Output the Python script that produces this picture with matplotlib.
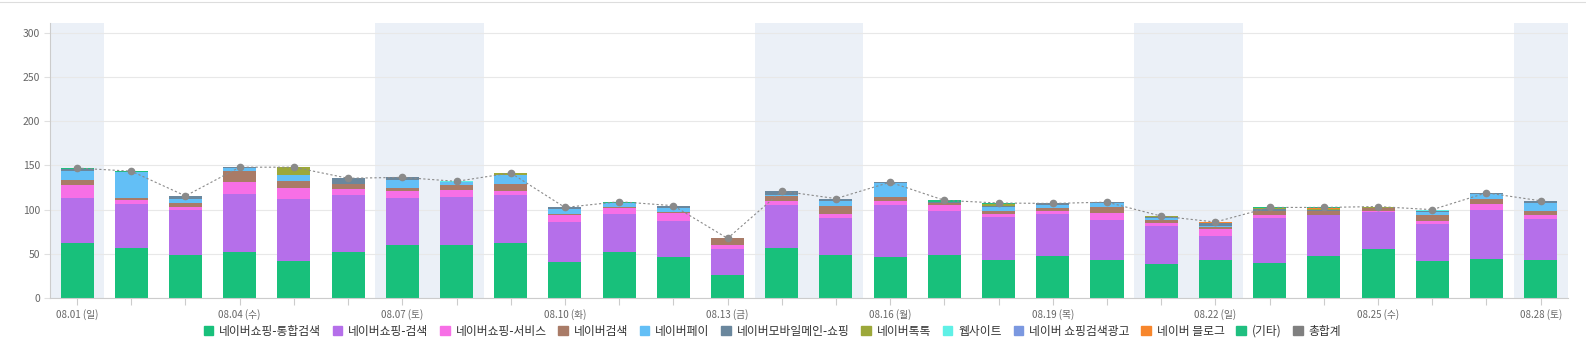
import numpy as np
import matplotlib.pyplot as plt
from matplotlib.lines import Line2D
from matplotlib.patches import Patch

plt.rcParams['font.family'] = ['Noto Sans CJK KR', 'DejaVu Sans']

# Daten
tage = ['08.%02d' % d for d in range(1, 29)]
wochentage = ['일', '월', '화', '수', '목', '금', '토'] * 4
wochenende = [0, 6, 7, 13, 14, 20, 21, 27]

serien = ['네이버쇼핑-통합검색', '네이버쇼핑-검색', '네이버쇼핑-서비스', '네이버검색',
          '네이버페이', '네이버모바일메인-쇼핑', '네이버톡톡', '웹사이트',
          '네이버 쇼핑검색광고', '네이버 블로그', '(기타)']

tonghap = [62, 57, 49, 52.5, 42, 52.5, 60.5, 60.5, 62.5, 41, 52.5, 46, 26.5, 57,
           49, 47, 49, 43.5, 48, 43.5, 39, 43.5, 40, 48, 56, 42, 44.5, 43.5]
geomsaek = [51, 49, 51, 65, 70.5, 63.5, 52.5, 54, 54, 45.5, 43, 41, 29.5, 48,
            42, 58, 49, 48, 47.5, 44.5, 43, 26.5, 50, 45.5, 41, 41.5, 55, 45.5]
service = [15, 4.5, 3.5, 14, 12.5, 7.5, 8, 7.5, 4.5, 8, 6, 9, 4.5, 4.5,
           4.5, 4.5, 7, 3.5, 2.5, 8, 2.5, 8.5, 4.5, 1, 1, 4, 7, 5.5]
naver_search = [5, 3, 3.5, 12, 7, 5.5, 4, 5.5, 8.5, 1, 1.5, 1, 7, 6,
                9, 5, 2, 3.5, 3.5, 7, 3.5, 2, 4.5, 4.5, 3.5, 6.5, 5.5, 4.5]
pay = [11, 28.5, 5.5, 4, 7, 0, 9, 3.5, 10, 5.5, 4, 5, 0, 1,
       5.5, 15.5, 0, 5, 4, 4.5, 2, 1.5, 0, 0, 0, 3.5, 6, 9]
mobile_main = [1.5, 0.5, 3, 0.5, 0.5, 6.5, 2.5, 0, 0, 1.5, 1, 2.5, 0, 4.5,
               1.5, 1, 1.5, 1, 1.5, 1, 2, 2.5, 1.5, 0.5, 0.5, 0.5, 1, 2]
talktalk = [0, 0, 0, 0, 8.5, 0, 0, 0, 2, 0, 0, 0, 0, 0,
            0, 0, 0, 2, 0, 0, 0.7, 0, 1.5, 1.5, 1, 0, 0, 0]
website = [0.5, 0, 0, 0, 0, 0, 0, 1, 0, 0, 0, 0, 0, 0,
           1, 0, 0, 0, 0, 0, 0, 0, 0, 0, 0, 2, 0, 0]
shopping_ad = [0, 0, 0, 0, 0, 0, 0, 0, 0, 0, 0, 0, 0, 0,
               0, 0, 0, 0, 0, 0, 0, 0.5, 0, 0, 0, 0, 0, 0]
blog = [0, 0, 0, 0, 0, 0, 0, 0, 0, 0, 0, 0, 0, 0,
        0, 0, 0, 0, 0, 0, 0, 1, 0, 1, 0.5, 0, 0, 0]
etc = [1, 1, 0, 0, 0, 0, 0, 0, 0, 0, 1, 0, 0, 0,
       0, 0, 2, 1, 0, 0, 0, 0, 0.5, 0.5, 0, 0, 0, 0]

werte = [tonghap, geomsaek, service, naver_search, pay, mobile_main,
         talktalk, website, shopping_ad, blog, etc]
farben = ['#18c07b', '#b56fea', '#f76fe6', '#a97b67', '#63bff6', '#6a879d',
          '#9ca83a', '#5ff0e6', '#7b98e0', '#f7862c', '#1fbf80']

x = np.arange(len(tage))
gesamt = np.sum(np.array(werte), axis=0)

fig = plt.figure(figsize=(15.86, 3.6), dpi=100)
ax = fig.add_axes([0.0315, 0.172, 0.957, 0.764])

# Wochenenden hinterlegen
for i in wochenende:
    ax.axvspan(i - 0.5, i + 0.5, color='#ebf0f7', zorder=0, lw=0)

# gestapelte Balken
unten = np.zeros(len(tage))
for name, w, f in zip(serien, werte, farben):
    ax.bar(x, w, width=0.61, bottom=unten, color=f, zorder=2, lw=0)
    unten = unten + np.array(w)

# Gesamtlinie
ax.plot(x, gesamt, color='#8a8a8a', lw=0.8, ls=(0, (2, 2)), marker='o',
        markersize=4.5, zorder=3)

ax.set_xlim(-0.5, 27.5)
ax.set_ylim(0, 311)
ax.set_yticks(range(0, 301, 50))
ax.grid(axis='y', color='#e8e8e8', lw=0.8, zorder=1)
ax.set_axisbelow(True)

beschriftung = [t + ' (' + w + ')' if i % 3 == 0 else ''
                for i, (t, w) in enumerate(zip(tage, wochentage))]
ax.set_xticks(x)
ax.set_xticklabels(beschriftung, fontsize=7, color='#666666')
ax.tick_params(axis='x', length=5, color='#cccccc', pad=3)
ax.tick_params(axis='y', length=4, color='#e0e0e0', labelsize=7.5,
               labelcolor='#666666', pad=3)

for s in ['top', 'right']:
    ax.spines[s].set_visible(False)
for s in ['left', 'bottom']:
    ax.spines[s].set_color('#cccccc')
    ax.spines[s].set_linewidth(0.8)

# Legende
handles = [Patch(color=f, label=n) for n, f in zip(serien, farben)]
handles.append(Patch(color='#808080', label='총합계'))
fig.legend(handles=handles, loc='center', bbox_to_anchor=(0.487, 0.08),
           ncol=len(handles), frameon=False, fontsize=8.5,
           handlelength=0.8, handleheight=0.8, handletextpad=0.5,
           columnspacing=1.0, labelcolor='#333333')

# obere Trennlinie
fig.add_artist(Line2D([0, 1], [0.994, 0.994], color='#dddddd', lw=0.8))

fig.savefig('out.png', dpi=100)
